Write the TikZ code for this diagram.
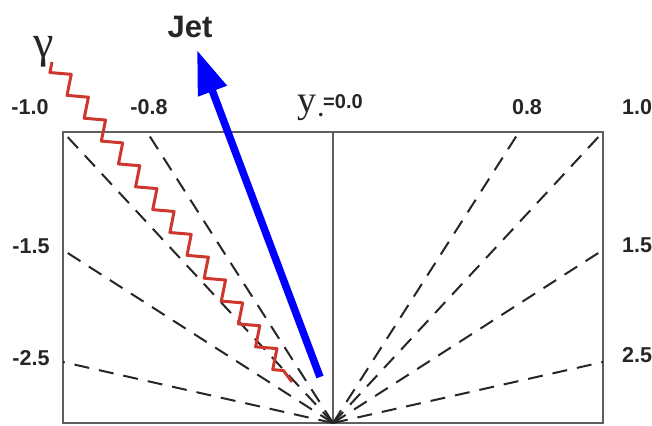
\documentclass[tikz,border=0pt]{standalone}
\usepackage{fontspec}
\setmainfont{Liberation Sans}
\newfontfamily\serf{Liberation Serif}
\usetikzlibrary{arrows.meta,decorations.pathmorphing}
\definecolor{boxgray}{RGB}{95,95,95}
\definecolor{snakered}{RGB}{205,55,45}
\definecolor{jetblue}{RGB}{0,0,255}
\begin{document}
\begin{tikzpicture}[x=1pt,y=-1pt,
  lab/.style={font=\bfseries\fontsize{21.5}{21.5}\selectfont, inner sep=0pt, text=black!85},
  ray/.style={draw=black!85, line width=2pt, dash pattern=on 15pt off 10pt},
  frame/.style={draw=boxgray, line width=2pt}]
\useasboundingbox (0,0) rectangle (652,425);
% frame
\coordinate (O) at (333,423);
\coordinate (TL) at (63,132);
\coordinate (TR) at (603,132);
\coordinate (BR) at (603,423);
\coordinate (TC) at (333,132);
\draw[frame] (TL) rectangle (BR);
\draw[boxgray, line width=1.4pt] (TC) -- (O);
% rays
\coordinate (Lm08) at (147,132);
\coordinate (L15) at (63,250);
\coordinate (L25) at (63,362);
\coordinate (Rp08) at (519,132);
\coordinate (R15) at (603,250);
\coordinate (R25) at (603,362);
\foreach \e in {TL,Lm08,L15,L25,TR,Rp08,R15,R25}
  \draw[ray] (O) -- (\e);
% photon
\coordinate (gs) at (52,62);
\coordinate (ge) at (292,382);
\draw[snakered, line width=3pt, line join=round, decorate,
  decoration={zigzag, segment length=28.57pt, amplitude=8pt, mirror}] (gs) -- (ge);
% jet
\coordinate (jt) at (320,377);
\coordinate (jh) at (197,50);
\draw[jetblue, line width=7.5pt, -{Triangle[length=44pt, width=29pt]}] (jt) -- (jh);
% labels
\node[lab] (n10) at (30,107) {-1.0};
\node[lab] (n08) at (149,107) {-0.8};
\node[lab] (p08) at (527,107) {0.8};
\node[lab, anchor=west] (p10) at (622,107) {1.0};
\node[lab] (n15) at (31,246) {-1.5};
\node[lab] (n25) at (31,358) {-2.5};
\node[lab, anchor=west] (p15) at (622,245) {1.5};
\node[lab, anchor=west] (p25) at (622,355) {2.5};
\node[font=\bfseries\fontsize{31}{31}\selectfont, inner sep=0pt, text=black!85] (jet) at (190,27) {Jet};
\node[font=\serf\fontsize{46}{46}\selectfont, inner sep=0pt, text=black!85] (gam) at (44,52) {γ};
\node[font=\serf\fontsize{38}{38}\selectfont, inner sep=0pt, anchor=base west, text=black!85] (yv) at (297,113) {y};
\node[font=\serf\bfseries\fontsize{22}{22}\selectfont, inner sep=0pt, anchor=base west, text=black!85] (yd) at (318,117) {.};
\node[font=\bfseries\fontsize{20}{20}\selectfont, inner sep=0pt, anchor=base west, text=black!85] (y0) at (323,109) {=0.0};
\end{tikzpicture}
\end{document}
